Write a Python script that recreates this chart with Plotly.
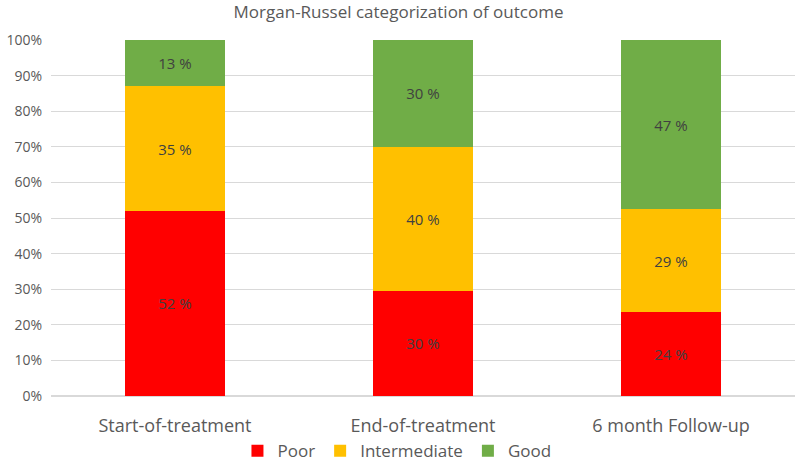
import plotly.graph_objects as go

# Morgan-Russel outcome categories at three time points (percent of patients)
timepoints = ["Start-of-treatment", "End-of-treatment", "6 month Follow-up"]
poor = [52.0, 29.5, 23.5]
intermediate = [35.0, 40.5, 29.0]
good = [13.0, 30.0, 47.5]
poor_labels = ["52 %", "30 %", "24 %"]
intermediate_labels = ["35 %", "40 %", "29 %"]
good_labels = ["13 %", "30 %", "47 %"]

FONT = "Open Sans, Liberation Sans, sans-serif"
TEXT_GREY = "#595959"


def add_segment(fig, name, values, labels, color):
    fig.add_trace(
        go.Bar(
            name=name,
            x=timepoints,
            y=values,
            text=labels,
            textposition="inside",
            insidetextanchor="middle",
            textfont=dict(family=FONT, size=15, color="#404040"),
            marker=dict(color=color, line=dict(width=0)),
            width=0.4,
            hoverinfo="name+y",
        )
    )


fig = go.Figure()
add_segment(fig, "Poor", poor, poor_labels, "#FF0000")
add_segment(fig, "Intermediate", intermediate, intermediate_labels, "#FFC000")
add_segment(fig, "Good", good, good_labels, "#70AD47")

fig.update_layout(
    width=797,
    height=463,
    barmode="stack",
    plot_bgcolor="white",
    paper_bgcolor="white",
    font=dict(family=FONT, color=TEXT_GREY),
    title=dict(
        text="Morgan-Russel categorization of outcome",
        x=0.5,
        xanchor="center",
        y=0.975,
        yanchor="middle",
        font=dict(size=17, color=TEXT_GREY),
    ),
    margin=dict(l=51, r=2, t=40, b=67, autoexpand=False),
    legend=dict(
        orientation="h",
        x=0.465,
        xanchor="center",
        y=-0.155,
        yanchor="middle",
        font=dict(size=17, color=TEXT_GREY),
        itemwidth=30,
        traceorder="normal",
    ),
    xaxis=dict(
        showline=False,
        ticks="",
        automargin=False,
        ticklabelstandoff=17,
        tickfont=dict(size=18, color=TEXT_GREY),
    ),
    yaxis=dict(
        range=[0, 100],
        dtick=10,
        ticksuffix="%",
        showgrid=True,
        gridcolor="#D9D9D9",
        gridwidth=1,
        zeroline=True,
        zerolinecolor="#D9D9D9",
        automargin=False,
        ticklabelstandoff=8,
        tickfont=dict(size=14, color=TEXT_GREY),
        ticks="",
    ),
)

# drop the browser's default page margin so the figure fills the window
fig.write_html(
    "out.html",
    config={"displayModeBar": False},
    post_script="document.body.style.margin = '0';",
)
